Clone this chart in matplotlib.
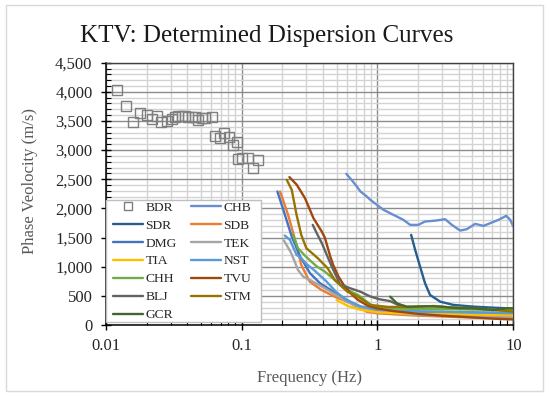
import matplotlib
matplotlib.use("Agg")
import matplotlib.pyplot as plt
from matplotlib.ticker import FixedLocator, MultipleLocator, FuncFormatter, LogLocator, NullFormatter
from matplotlib.patches import Rectangle

plt.rcParams['font.family'] = ['Liberation Serif', 'DejaVu Serif']

# ---------------- data ----------------
BDR_f = [0.0121, 0.0141, 0.0160, 0.0179, 0.0200, 0.0218, 0.0240, 0.0254, 0.0284, 0.0306,
         0.0324, 0.0343, 0.0363, 0.0384, 0.0406, 0.0430, 0.0455, 0.0481, 0.0509, 0.0538,
         0.0603, 0.0638, 0.0695, 0.0747, 0.0813, 0.0870, 0.0931, 0.0947, 0.1003, 0.1120,
         0.1220, 0.1316]
BDR_v = [4040, 3750, 3476, 3637, 3608, 3534, 3590, 3476, 3493, 3534,
         3568, 3579, 3579, 3579, 3568, 3568, 3568, 3522, 3545, 3550,
         3568, 3247, 3207, 3293, 3224, 3092, 3132, 2847, 2864, 2864,
         2692, 2835]

CHB_f = [0.59, 0.65, 0.705, 0.75, 0.835, 0.884, 0.99, 1.107, 1.31, 1.554, 1.74, 2.0, 2.24,
         2.66, 3.15, 3.53, 4.06, 4.55, 5.24, 6.03, 6.95, 7.78, 8.87, 9.49, 10.0]
CHB_v = [2594, 2480, 2376, 2290, 2204, 2150, 2062, 1976, 1890, 1804, 1718, 1718, 1775,
         1790, 1815, 1718, 1620, 1644, 1735, 1700, 1758, 1804, 1873, 1804, 1690]

SDR_f = [1.77, 1.895, 2.06, 2.24, 2.44, 2.9, 3.63, 5.1, 7.15, 8.97, 10.0]
SDR_v = [1546, 1289, 1002, 716, 515, 400, 344, 315, 297, 287, 260]

SDB_f = [0.192, 0.205, 0.22, 0.246, 0.275, 0.317, 0.387, 0.484, 0.64, 0.835, 1.0, 1.5,
         2.0, 3.0, 5.0, 7.0, 10.0]
SDB_v = [2290, 2100, 1890, 1489, 1031, 744, 601, 486, 373, 229, 200, 175,
         160, 145, 130, 120, 115]

DMG_f = [0.1835, 0.203, 0.234, 0.27, 0.319, 0.378, 0.474, 0.596, 0.746, 0.99, 1.5,
         2.0, 3.0, 5.0, 7.0, 10.0]
DMG_v = [2290, 1976, 1517, 1174, 888, 716, 573, 430, 315, 258, 240,
         230, 225, 215, 210, 205]

TEK_f = [0.205, 0.23, 0.245, 0.26, 0.284, 0.335, 0.41, 0.543, 0.70, 1.0, 1.5, 2.0,
         3.0, 5.0, 7.0, 10.0]
TEK_v = [1450, 1250, 1100, 945, 830, 744, 630, 458, 315, 220, 190, 170,
         160, 150, 145, 140]

TIA_f = [0.5, 0.6, 0.75, 1.0, 1.5, 2.0, 3.0, 5.0, 7.0, 10.0]
TIA_v = [430, 330, 260, 220, 200, 195, 190, 180, 175, 170]

NST_f = [0.208, 0.227, 0.254, 0.275, 0.30, 0.35, 0.42, 0.5, 0.6, 0.75, 1.0, 1.5,
         2.0, 3.0, 5.0, 7.0, 10.0]
NST_v = [1534, 1460, 1203, 1146, 1050, 920, 750, 560, 420, 320, 260, 240,
         230, 225, 215, 210, 200]

CHH_f = [0.239, 0.26, 0.29, 0.326, 0.36, 0.41, 0.484, 0.56, 0.6, 0.72, 0.935, 1.5,
         2.0, 3.0, 5.0, 7.0, 10.0]
CHH_v = [1546, 1317, 1200, 1088, 1000, 916, 773, 640, 601, 515, 315, 280,
         275, 270, 265, 260, 255]

TVU_f = [0.225, 0.255, 0.293, 0.338, 0.39, 0.41, 0.449, 0.472, 0.517, 0.575, 0.65,
         0.72, 0.85, 0.99, 1.3, 2.0, 3.0, 5.0, 7.0, 10.0]
TVU_v = [2537, 2405, 2176, 1833, 1600, 1500, 1180, 1031, 830, 658, 520,
         430, 330, 287, 240, 190, 160, 130, 110, 95]

BLJ_f = [0.334, 0.36, 0.39, 0.461, 0.53, 0.63, 0.746, 0.884, 1.04, 1.24, 1.42, 1.5]
BLJ_v = [1718, 1560, 1403, 1002, 700, 630, 573, 490, 440, 410, 344, 330]

STM_f = [0.215, 0.234, 0.254, 0.275, 0.30, 0.364, 0.43, 0.485, 0.60, 0.72, 0.884, 1.2,
         1.8, 2.6, 3.5, 5.0, 7.0, 10.0]
STM_v = [2491, 2319, 1890, 1546, 1317, 1146, 974, 773, 573, 486, 344, 310,
         310, 326, 300, 290, 260, 230]

GCR_f = [1.24, 1.39, 1.5, 1.65, 2.31, 2.9, 4.06, 5.1, 7.15, 8.97, 10.0]
GCR_v = [486, 373, 344, 315, 320, 315, 287, 287, 258, 287, 287]

x_ticks = [0.01, 0.1, 1, 10]
x_ticklabels = ['0.01', '0.1', '1', '10']

# ---------------- figure ----------------
fig = plt.figure(figsize=(5.49, 3.96), dpi=100)
fig.patches.append(Rectangle((0.011, 0.012), 0.978, 0.976, transform=fig.transFigure,
                             fill=False, edgecolor='#D9D9D9', linewidth=1.0))
ax = fig.add_axes([0.1925, 0.1793, 0.7425, 0.6624])

lw = 1.7
curves = [
    ('CHB', CHB_f, CHB_v, '#698ED0'),
    ('SDR', SDR_f, SDR_v, '#255E91'),
    ('SDB', SDB_f, SDB_v, '#ED7D31'),
    ('DMG', DMG_f, DMG_v, '#4472C4'),
    ('TEK', TEK_f, TEK_v, '#A5A5A5'),
    ('TIA', TIA_f, TIA_v, '#FFC000'),
    ('NST', NST_f, NST_v, '#5B9BD5'),
    ('CHH', CHH_f, CHH_v, '#70AD47'),
    ('TVU', TVU_f, TVU_v, '#9E480E'),
    ('BLJ', BLJ_f, BLJ_v, '#636363'),
    ('STM', STM_f, STM_v, '#997300'),
    ('GCR', GCR_f, GCR_v, '#43682B'),
]

handles = {}
h = ax.plot(BDR_f, BDR_v, linestyle='none', marker='s', markersize=6.8,
            markerfacecolor='none', markeredgecolor='#7F7F7F', markeredgewidth=1.0,
            label='BDR', zorder=3)[0]
handles['BDR'] = h
for name, f, v, c in curves:
    h = ax.plot(f, v, color=c, linewidth=lw, label=name, zorder=3,
                solid_joinstyle='round', solid_capstyle='round')[0]
    handles[name] = h

ax.set_xscale('log')
ax.set_xlim(0.01, 10)
ax.set_ylim(0, 4500)

ax.yaxis.set_major_locator(MultipleLocator(500))
ax.yaxis.set_minor_locator(MultipleLocator(100))
ax.yaxis.set_major_formatter(FuncFormatter(lambda v, p: f'{int(v):,}'))
ax.xaxis.set_major_locator(FixedLocator(x_ticks))
ax.set_xticklabels(x_ticklabels)
ax.xaxis.set_minor_locator(LogLocator(base=10, subs=range(2, 10)))
ax.xaxis.set_minor_formatter(NullFormatter())

ax.grid(True, which='major', color='#8C8C8C', linewidth=1.0, zorder=1)
ax.grid(True, which='minor', color='#D3D3D3', linewidth=1.0, zorder=0)
ax.set_axisbelow(True)

for s in ['left', 'bottom']:
    ax.spines[s].set_color('black')
    ax.spines[s].set_linewidth(1.1)
for s in ['top', 'right']:
    ax.spines[s].set_color('#404040')
    ax.spines[s].set_linewidth(1.0)

ax.tick_params(which='major', direction='inout', length=7, width=1.0, color='black',
               labelsize=12, labelcolor='#262626', pad=6)
ax.tick_params(which='minor', direction='in', length=3.5, width=0.8, color='black')

ax.set_xlabel('Frequency (Hz)', fontsize=12, color='#595959')
ax.xaxis.set_label_coords(0.499, -0.172)
ax.set_ylabel('Phase Veolocity (m/s)', fontsize=12, color='#595959')
ax.yaxis.set_label_coords(-0.166, 0.549)

fig.text(0.485, 0.910, 'KTV: Determined Dispersion Curves', fontsize=18,
         color='#1A1A1A', ha='center', va='center')

# legend frame (drawn separately) and legend content
ax.add_patch(Rectangle((0.0, 0.011), 0.381, 0.466, transform=ax.transAxes,
                       facecolor='white', edgecolor='#BFBFBF', linewidth=1.0,
                       zorder=4, clip_on=False))
order = ['BDR', 'SDR', 'DMG', 'TIA', 'CHH', 'BLJ', 'GCR',
         'CHB', 'SDB', 'TEK', 'NST', 'TVU', 'STM']
leg_handles = [handles[n] for n in order]
leg = ax.legend(leg_handles, order, ncol=2, loc='upper left',
                bbox_to_anchor=(0.0186, 0.472), borderaxespad=0,
                fontsize=9.7, frameon=False, handlelength=2.2, handletextpad=0.2,
                columnspacing=1.05, labelspacing=0.41, borderpad=0.0,
                markerscale=0.8)
for t in leg.get_texts():
    t.set_color('#262626')
leg.set_zorder(5)

fig.savefig('out.png', dpi=100)
